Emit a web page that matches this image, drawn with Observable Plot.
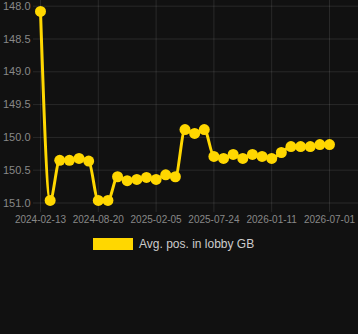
<!DOCTYPE html>
<html>
<head>
<meta charset="utf-8">
<script src="https://cdn.jsdelivr.net/npm/d3@7"></script>
<script src="https://cdn.jsdelivr.net/npm/@observablehq/plot@0.6"></script>
<style>
  html, body { margin: 0; padding: 0; background: #111111; }
  body { width: 358px; height: 334px; overflow: hidden; font-family: "Liberation Sans", Arial, Helvetica, sans-serif; }
  #legend { position: relative; height: 20px; margin-top: 6px; }
  #legend .box { position: absolute; left: 93px; top: 0; width: 40px; height: 12px; background: #FFD700; }
  #legend .label { position: absolute; left: 139px; top: -1px; font-size: 12px; line-height: 14px; color: #cccccc; white-space: nowrap; }
</style>
</head>
<body>
<div id="chart"></div>
<div id="legend"><div class="box"></div><div class="label"></div></div>
<script>
const dates = [
  "2024-02-13","2024-03-15","2024-04-16","2024-05-18","2024-06-18","2024-07-19","2024-08-20",
  "2024-09-17","2024-10-15","2024-11-12","2024-12-10","2025-01-08","2025-02-05",
  "2025-03-05","2025-04-02","2025-04-30","2025-05-28","2025-06-26","2025-07-24",
  "2025-08-21","2025-09-18","2025-10-17","2025-11-14","2025-12-13","2026-01-11",
  "2026-02-08","2026-03-09","2026-04-06","2026-05-05","2026-06-02","2026-07-01"
];
const positions = [
  148.08, 150.96, 150.35, 150.35, 150.32, 150.36, 150.96,
  150.96, 150.60, 150.66, 150.64, 150.61, 150.64,
  150.57, 150.60, 149.88, 149.94, 149.88, 150.29,
  150.32, 150.26, 150.32, 150.26, 150.29, 150.32,
  150.23, 150.14, 150.14, 150.14, 150.11, 150.11
];
const tickDates = ["2024-02-13","2024-08-20","2025-02-05","2025-07-24","2026-01-11","2026-07-01"];
const yTicks = [148, 148.5, 149, 149.5, 150, 150.5, 151];
const seriesName = "Avg. pos. in lobby GB";
const lineColor = "#FFD700";

// category axis: each date gets an evenly spaced slot (index into dates)
const data = dates.map((d, i) => ({idx: i, date: d, pos: positions[i]}));
const tickIdx = tickDates.map(t => dates.indexOf(t));

const chart = Plot.plot({
  width: 358,
  height: 232,
  marginTop: 0,
  marginBottom: 20,
  marginLeft: 33,
  marginRight: 0,
  style: {background: "#111111", color: "#888888", fontFamily: "'Liberation Sans', Arial, Helvetica, sans-serif"},
  x: {type: "linear", domain: [0, dates.length - 1], range: [40, 329], label: null},
  y: {type: "linear", domain: [148, 151], range: [5.7, 202.5], label: null},
  marks: [
    Plot.gridY(yTicks, {stroke: "#ffffff", strokeOpacity: 0.1, strokeWidth: 1}),
    Plot.gridX(tickIdx, {stroke: "#ffffff", strokeOpacity: 0.1, strokeWidth: 1}),
    Plot.axisY(yTicks, {tickSize: 0, tickPadding: 3, tickFormat: d3.format(".1f"), fontSize: 11, fill: "#888888", label: null}),
    Plot.axisX(tickIdx, {tickSize: 0, tickPadding: 3, tickFormat: i => dates[i], fontSize: 10, fill: "#888888", label: null}),
    Plot.line(data, {x: "idx", y: "pos", stroke: lineColor, strokeWidth: 3, curve: "monotone-x"}),
    Plot.dot(data, {x: "idx", y: "pos", r: 5.5, fill: lineColor, stroke: "none"})
  ]
});
document.getElementById("chart").appendChild(chart);
document.querySelector("#legend .label").textContent = seriesName;
</script>
</body>
</html>
